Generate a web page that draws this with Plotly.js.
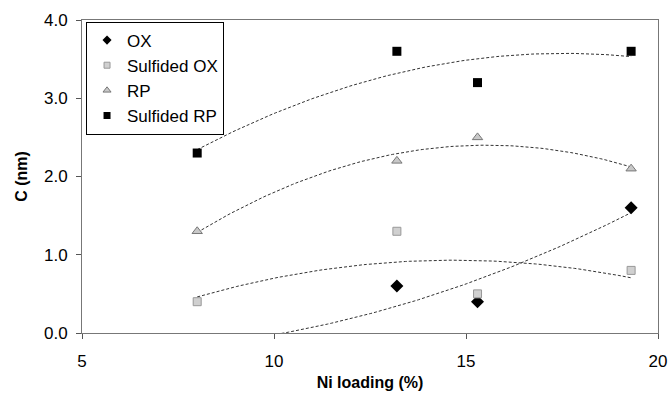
<!DOCTYPE html>
<html><head><meta charset="utf-8">
<script src="https://cdn.plot.ly/plotly-3.0.1.min.js"></script>
<style>body{margin:0;background:#fff}#chart{width:670px;height:395px}</style>
</head><body><div id="chart"></div>
<script>
const niLoading = [8, 13.2, 15.3, 19.3];
const ox = [-0.2, 0.6, 0.4, 1.6];
const sulfidedOx = [0.4, 1.3, 0.5, 0.8];
const rp = [1.3, 2.2, 2.5, 2.1];
const sulfidedRp = [2.3, 3.6, 3.2, 3.6];
const seriesNames = ['OX', 'Sulfided OX', 'RP', 'Sulfided RP'];
const xTicks = [5, 10, 15, 20];
const yTicks = [0, 1, 2, 3, 4];

function polyfit2(xs, ys) {
  let n = xs.length, s = [0,0,0,0,0], t = [0,0,0];
  for (let i = 0; i < n; i++) {
    let p = 1;
    for (let k = 0; k < 5; k++) { s[k] += p; if (k < 3) t[k] += p * ys[i]; p *= xs[i]; }
  }
  const A = [[s[0],s[1],s[2],t[0]],[s[1],s[2],s[3],t[1]],[s[2],s[3],s[4],t[2]]];
  for (let i = 0; i < 3; i++) {
    for (let j = i+1; j < 3; j++) {
      const f = A[j][i]/A[i][i];
      for (let k = i; k < 4; k++) A[j][k] -= f*A[i][k];
    }
  }
  const c = [0,0,0];
  for (let i = 2; i >= 0; i--) {
    let v = A[i][3];
    for (let k = i+1; k < 3; k++) v -= A[i][k]*c[k];
    c[i] = v/A[i][i];
  }
  return c;
}
function trend(xs, ys) {
  const c = polyfit2(xs, ys);
  const x0 = Math.min(...xs), x1 = Math.max(...xs);
  const X = [], Y = [];
  for (let i = 0; i <= 100; i++) { const x = x0 + (x1-x0)*i/100; X.push(x); Y.push(c[0]+c[1]*x+c[2]*x*x); }
  return {x: X, y: Y, mode: 'lines', showlegend: false, hoverinfo: 'skip',
    line: {color: '#333', width: 1, dash: '3px,2px'}};
}

const styles = [
  {symbol: 'diamond', size: 10, color: '#000'},
  {symbol: 'square', size: 8, color: '#d0d0d0', line: {color: '#999', width: 1}},
  {symbol: 'triangle-up', size: 9, color: '#c8c8c8', line: {color: '#777', width: 1}},
  {symbol: 'square', size: 9, color: '#000'}
];
const legendStyles = [
  {symbol: 'diamond', size: 7, color: '#000'},
  {symbol: 'square', size: 6, color: '#d0d0d0', line: {color: '#999', width: 1}},
  {symbol: 'triangle-up', size: 7, color: '#c8c8c8', line: {color: '#777', width: 1}},
  {symbol: 'square', size: 7, color: '#000'}
];
const series = [ox, sulfidedOx, rp, sulfidedRp];

const data = series.map(ys => trend(niLoading, ys));
series.forEach((ys, i) => {
  data.push({x: niLoading, y: ys, name: seriesNames[i], mode: 'markers', showlegend: false,
    cliponaxis: i === 0, marker: styles[i]});
});
series.forEach((ys, i) => {
  data.push({x: [null], y: [null], name: seriesNames[i], mode: 'markers', marker: legendStyles[i]});
});

const layout = {
  width: 670, height: 395,
  margin: {l: 82, r: 12, t: 20, b: 62},
  paper_bgcolor: '#fff', plot_bgcolor: '#fff',
  font: {family: 'Liberation Sans, Arial, sans-serif', color: '#000'},
  xaxis: {range: [5, 20], tickvals: xTicks, ticks: 'outside', ticklen: 5, tickcolor: '#555',
    ticklabelstandoff: 8,
    showgrid: false, zeroline: false, showline: true, linecolor: '#777', linewidth: 1, mirror: true,
    tickfont: {size: 17}, title: {text: '<b>Ni loading (%)</b>', font: {size: 16}, standoff: 6}},
  yaxis: {range: [0, 4], tickvals: yTicks, tickformat: '.1f', ticks: 'outside', ticklen: 5, tickcolor: '#555',
    ticklabelstandoff: 5,
    showgrid: false, zeroline: false, showline: true, linecolor: '#777', linewidth: 1, mirror: true,
    tickfont: {size: 17}, title: {text: '<b>C (nm)</b>', font: {size: 16}, standoff: 12}},
  legend: {x: 0.007, y: 0.995, xanchor: 'left', yanchor: 'top', bgcolor: '#fff',
    bordercolor: '#000', borderwidth: 1, font: {size: 17}, tracegroupgap: 0, itemwidth: 30},
  showlegend: true
};
Plotly.newPlot('chart', data, layout, {displayModeBar: false, staticPlot: true});
</script></body></html>
